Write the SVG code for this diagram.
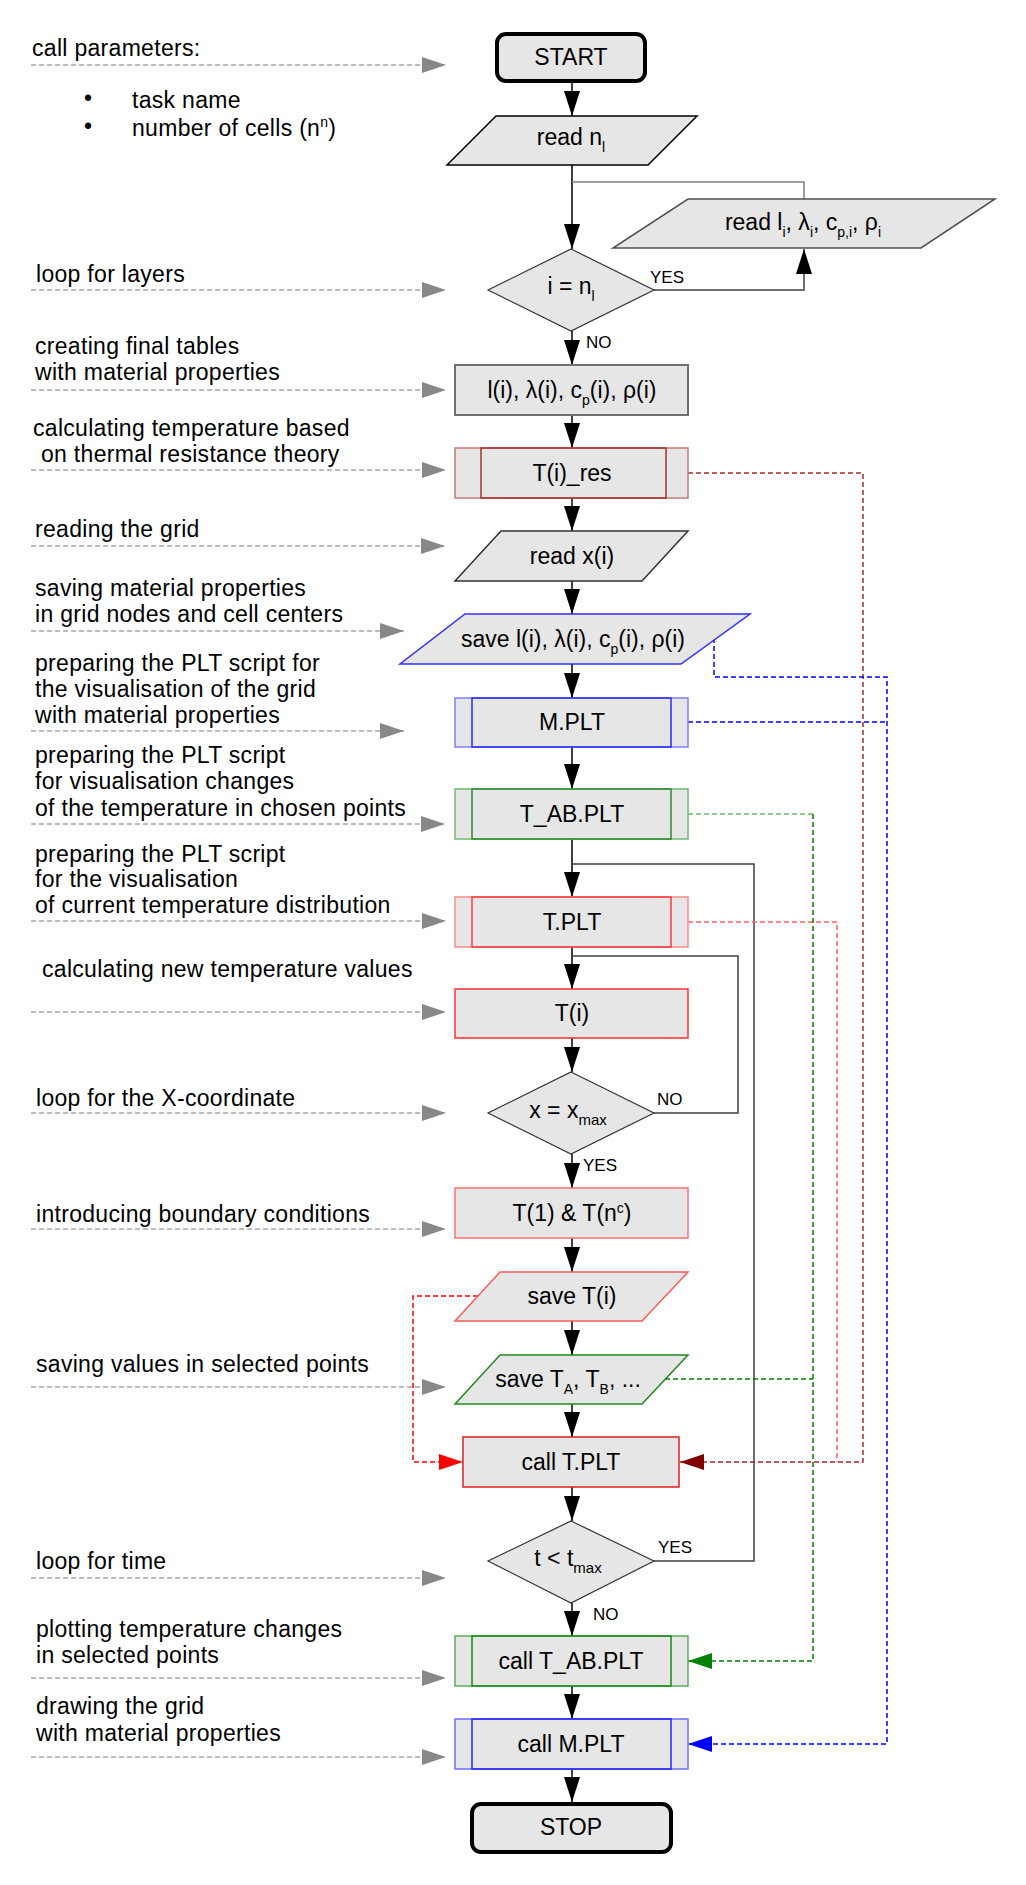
<svg xmlns="http://www.w3.org/2000/svg" width="1026" height="1885" viewBox="0 0 1026 1885">
<style>
text{font-family:"Liberation Sans",Arial,sans-serif;fill:#000}
.note{font-size:23px;letter-spacing:0.3px}
.t{font-size:23px;text-anchor:middle}
.lbl{font-size:17px}
.fill{fill:#e6e6e6}
.flow{fill:none;stroke:#000;stroke-width:1.5}
.ann{fill:none;stroke:#a6a6a6;stroke-width:1.5;stroke-dasharray:5,3}
.loop{fill:none;stroke:#404040;stroke-width:1.5}
.dash{fill:none;stroke-width:1.5;stroke-dasharray:5,3}
</style>
<defs>
<marker id="ab" markerUnits="userSpaceOnUse" markerWidth="25" markerHeight="16" refX="25" refY="8" orient="auto"><path d="M0,0 L25,8 L0,16 z" fill="#000"/></marker>
<marker id="ag" markerUnits="userSpaceOnUse" markerWidth="24" markerHeight="16" refX="24" refY="8" orient="auto"><path d="M0,0 L24,8 L0,16 z" fill="#888"/></marker>
<marker id="adr" markerUnits="userSpaceOnUse" markerWidth="24" markerHeight="16" refX="24" refY="8" orient="auto"><path d="M0,0 L24,8 L0,16 z" fill="#800000"/></marker>
<marker id="ar" markerUnits="userSpaceOnUse" markerWidth="24" markerHeight="16" refX="24" refY="8" orient="auto"><path d="M0,0 L24,8 L0,16 z" fill="#ff0000"/></marker>
<marker id="agr" markerUnits="userSpaceOnUse" markerWidth="24" markerHeight="16" refX="24" refY="8" orient="auto"><path d="M0,0 L24,8 L0,16 z" fill="#008000"/></marker>
<marker id="abl" markerUnits="userSpaceOnUse" markerWidth="24" markerHeight="16" refX="24" refY="8" orient="auto"><path d="M0,0 L24,8 L0,16 z" fill="#0000ff"/></marker>
</defs>
<rect width="1026" height="1885" fill="#fff"/>

<g id="annotations">
<text class="note" x="32" y="56">call parameters:</text>
<text class="note" x="84" y="106">•</text><text class="note" x="132" y="108">task name</text>
<text class="note" x="84" y="134">•</text><text class="note" x="132" y="136">number of cells (n<tspan font-size="14" dy="-9">n</tspan><tspan dy="9">)</tspan></text>
<text class="note" x="36" y="282">loop for layers</text>
<text class="note" x="35" y="354">creating final tables</text>
<text class="note" x="35" y="380">with material properties</text>
<text class="note" x="33" y="436">calculating temperature based</text>
<text class="note" x="41" y="462">on thermal resistance theory</text>
<text class="note" x="35" y="537">reading the grid</text>
<text class="note" x="35" y="596">saving material properties</text>
<text class="note" x="35" y="622">in grid nodes and cell centers</text>
<text class="note" x="35" y="671">preparing the PLT script for</text>
<text class="note" x="35" y="697">the visualisation of the grid</text>
<text class="note" x="35" y="723">with material properties</text>
<text class="note" x="35" y="763">preparing the PLT script</text>
<text class="note" x="35" y="789">for visualisation changes</text>
<text class="note" x="35" y="816">of the temperature in chosen points</text>
<text class="note" x="35" y="862">preparing the PLT script</text>
<text class="note" x="35" y="887">for the visualisation</text>
<text class="note" x="35" y="913">of current temperature distribution</text>
<text class="note" x="42" y="977">calculating new temperature values</text>
<text class="note" x="36" y="1106">loop for the X-coordinate</text>
<text class="note" x="36" y="1222">introducing boundary conditions</text>
<text class="note" x="36" y="1372">saving values in selected points</text>
<text class="note" x="36" y="1569">loop for time</text>
<text class="note" x="36" y="1637">plotting temperature changes</text>
<text class="note" x="36" y="1663">in selected points</text>
<text class="note" x="36" y="1714">drawing the grid</text>
<text class="note" x="36" y="1741">with material properties</text>
<path class="ann" marker-end="url(#ag)" d="M31,65 H446"/>
<path class="ann" marker-end="url(#ag)" d="M31,290 H446"/>
<path class="ann" marker-end="url(#ag)" d="M31,390 H446"/>
<path class="ann" marker-end="url(#ag)" d="M31,470 H446"/>
<path class="ann" marker-end="url(#ag)" d="M31,546 H445"/>
<path class="ann" marker-end="url(#ag)" d="M31,631 H404"/>
<path class="ann" marker-end="url(#ag)" d="M31,731 H404"/>
<path class="ann" marker-end="url(#ag)" d="M31,824 H445"/>
<path class="ann" marker-end="url(#ag)" d="M31,921 H446"/>
<path class="ann" marker-end="url(#ag)" d="M31,1012 H446"/>
<path class="ann" marker-end="url(#ag)" d="M31,1113 H446"/>
<path class="ann" marker-end="url(#ag)" d="M31,1229 H446"/>
<path class="ann" marker-end="url(#ag)" d="M31,1387 H446"/>
<path class="ann" marker-end="url(#ag)" d="M31,1578 H446"/>
<path class="ann" marker-end="url(#ag)" d="M31,1678 H446"/>
<path class="ann" marker-end="url(#ag)" d="M31,1757 H446"/>
</g>

<g id="connectors">
<path class="flow" marker-end="url(#ab)" d="M572,83 V116"/>
<path class="flow" marker-end="url(#ab)" d="M572,165 V249"/>
<path class="flow" marker-end="url(#ab)" d="M572,331 V365"/>
<path class="flow" marker-end="url(#ab)" d="M572,415 V448"/>
<path class="flow" marker-end="url(#ab)" d="M572,498 V531"/>
<path class="flow" marker-end="url(#ab)" d="M572,581 V614"/>
<path class="flow" marker-end="url(#ab)" d="M572,664 V698"/>
<path class="flow" marker-end="url(#ab)" d="M572,747 V789"/>
<path class="flow" marker-end="url(#ab)" d="M572,839 V897"/>
<path class="flow" marker-end="url(#ab)" d="M572,947 V989"/>
<path class="flow" marker-end="url(#ab)" d="M572,1038 V1072"/>
<path class="flow" marker-end="url(#ab)" d="M572,1154 V1188"/>
<path class="flow" marker-end="url(#ab)" d="M572,1238 V1272"/>
<path class="flow" marker-end="url(#ab)" d="M572,1321 V1355"/>
<path class="flow" marker-end="url(#ab)" d="M572,1404 V1437"/>
<path class="flow" marker-end="url(#ab)" d="M572,1487 V1521"/>
<path class="flow" marker-end="url(#ab)" d="M572,1603 V1636"/>
<path class="flow" marker-end="url(#ab)" d="M572,1686 V1719"/>
<path class="flow" marker-end="url(#ab)" d="M572,1769 V1802"/>
<path class="loop" style="stroke:#808080" d="M572,182 H804 V199"/>
<path class="loop" marker-end="url(#ab)" d="M654,290 H804 V249"/>
<path class="loop" d="M654,1113 H738 V956 H572"/>
<path class="loop" d="M654,1561 H754 V864 H572"/>
<path class="dash" stroke="#a52a2a" marker-end="url(#adr)" d="M688,473 H863 V1462 H680"/>
<path class="dash" stroke="#ff6060" d="M688,922 H837 V1462"/>
<path class="dash" stroke="#ff0000" marker-end="url(#ar)" d="M478,1296 H413 V1462 H463"/>
<path class="dash" stroke="#6cbf6c" d="M688,814 H813"/>
<path class="dash" stroke="#008000" marker-end="url(#agr)" d="M813,814 V1661 H688"/>
<path class="dash" stroke="#008000" d="M665,1379 H813"/>
<path class="dash" stroke="#0000ff" d="M688,722 H887"/>
<path class="dash" stroke="#0000ff" marker-end="url(#abl)" d="M714,638 V677 H887 V1744 H688"/>
<text class="lbl" x="650" y="283">YES</text>
<text class="lbl" x="586" y="348">NO</text>
<text class="lbl" x="657" y="1105">NO</text>
<text class="lbl" x="583" y="1171">YES</text>
<text class="lbl" x="658" y="1553">YES</text>
<text class="lbl" x="593" y="1620">NO</text>
</g>

<g id="start"><rect class="fill" x="497" y="34" width="148" height="47" rx="9" stroke="#000" stroke-width="4"/><text class="t" x="571" y="65">START</text></g>
<g id="read-nl"><path class="fill" d="M496,116 H697 L648,165 H447 Z" stroke="#000" stroke-width="1.5"/><text class="t" x="571" y="145">read n<tspan font-size="14" dy="7">l</tspan></text></g>
<g id="read-li"><path class="fill" d="M688,199 H995 L921,248 H613 Z" stroke="#505050" stroke-width="1.5"/><text class="t" x="803" y="230">read l<tspan font-size="14" dy="7">i</tspan><tspan dy="-7">, λ</tspan><tspan font-size="14" dy="7">i</tspan><tspan dy="-7">, c</tspan><tspan font-size="14" dy="7">p,i</tspan><tspan dy="-7">, ρ</tspan><tspan font-size="14" dy="7">i</tspan></text></g>
<g id="dec-layers"><path class="fill" d="M571,249 L654,290 L571,331 L488,290 Z" stroke="#333" stroke-width="1.2"/><text class="t" x="571" y="294">i = n<tspan font-size="14" dy="7">l</tspan></text></g>
<g id="tables"><rect class="fill" x="455" y="365" width="233" height="50" stroke="#707070" stroke-width="2"/><text class="t" x="572" y="398">l(i), λ(i), c<tspan font-size="14" dy="7">p</tspan><tspan dy="-7">(i), ρ(i)</tspan></text></g>
<g id="tres"><rect class="fill" x="455" y="448" width="233" height="50" stroke="#c87878" stroke-width="1.5"/><rect x="481" y="448" width="185" height="50" fill="none" stroke="#a83232" stroke-width="1.5"/><text class="t" x="572" y="481">T(i)_res</text></g>
<g id="read-x"><path class="fill" d="M501,531 H688 L642,581 H455 Z" stroke="#333" stroke-width="1.5"/><text class="t" x="572" y="564">read x(i)</text></g>
<g id="save-props"><path class="fill" d="M465,614 H750 L681,664 H400 Z" stroke="#2f2fff" stroke-width="1.5"/><text class="t" x="573" y="647">save l(i), λ(i), c<tspan font-size="14" dy="7">p</tspan><tspan dy="-7">(i), ρ(i)</tspan></text></g>
<g id="mplt"><rect class="fill" x="455" y="698" width="233" height="49" stroke="#7f7fff" stroke-width="1.5"/><rect x="472" y="698" width="199" height="49" fill="none" stroke="#2a2aff" stroke-width="1.5"/><text class="t" x="572" y="730">M.PLT</text></g>
<g id="tabplt"><rect class="fill" x="455" y="789" width="233" height="50" stroke="#70b870" stroke-width="1.5"/><rect x="472" y="789" width="199" height="50" fill="none" stroke="#2e8b2e" stroke-width="1.5"/><text class="t" x="572" y="822">T_AB.PLT</text></g>
<g id="tplt"><rect class="fill" x="455" y="897" width="233" height="50" stroke="#ff8c8c" stroke-width="1.5"/><rect x="472" y="897" width="199" height="50" fill="none" stroke="#ff3a3a" stroke-width="1.5"/><text class="t" x="572" y="930">T.PLT</text></g>
<g id="ti"><rect class="fill" x="455" y="989" width="233" height="49" stroke="#ff3030" stroke-width="1.5"/><text class="t" x="572" y="1021">T(i)</text></g>
<g id="dec-x"><path class="fill" d="M571,1072 L654,1113 L571,1154 L488,1113 Z" stroke="#333" stroke-width="1.2"/><text class="t" x="568" y="1118">x = x<tspan font-size="15" dy="7">max</tspan></text></g>
<g id="boundary"><rect class="fill" x="455" y="1188" width="233" height="50" stroke="#ff7070" stroke-width="1.5"/><text class="t" x="572" y="1221">T(1) &amp; T(n<tspan font-size="14" dy="-8">c</tspan><tspan dy="8">)</tspan></text></g>
<g id="save-t"><path class="fill" d="M500,1272 H688 L642,1321 H455 Z" stroke="#ff5a5a" stroke-width="1.5"/><text class="t" x="572" y="1304">save T(i)</text></g>
<g id="save-tab"><path class="fill" d="M500,1355 H688 L642,1404 H455 Z" stroke="#1f8a1f" stroke-width="1.5"/><text class="t" x="568" y="1387">save T<tspan font-size="14" dy="7">A</tspan><tspan dy="-7">, T</tspan><tspan font-size="14" dy="7">B</tspan><tspan dy="-7">, ...</tspan></text></g>
<g id="call-tplt"><rect class="fill" x="463" y="1437" width="216" height="50" stroke="#e61e1e" stroke-width="1.5"/><text class="t" x="571" y="1470">call T.PLT</text></g>
<g id="dec-t"><path class="fill" d="M571,1521 L654,1561 L571,1603 L488,1561 Z" stroke="#333" stroke-width="1.2"/><text class="t" x="568" y="1566">t &lt; t<tspan font-size="15" dy="7">max</tspan></text></g>
<g id="call-tab"><rect class="fill" x="455" y="1636" width="233" height="50" stroke="#5cad5c" stroke-width="1.5"/><rect x="472" y="1636" width="199" height="50" fill="none" stroke="#178a17" stroke-width="1.5"/><text class="t" x="571" y="1669">call T_AB.PLT</text></g>
<g id="call-m"><rect class="fill" x="455" y="1719" width="233" height="50" stroke="#6c6cff" stroke-width="1.5"/><rect x="472" y="1719" width="199" height="50" fill="none" stroke="#2323ff" stroke-width="1.5"/><text class="t" x="571" y="1752">call M.PLT</text></g>
<g id="stop"><rect class="fill" x="472" y="1804" width="199" height="48" rx="9" stroke="#000" stroke-width="4"/><text class="t" x="571" y="1835">STOP</text></g>
</svg>
